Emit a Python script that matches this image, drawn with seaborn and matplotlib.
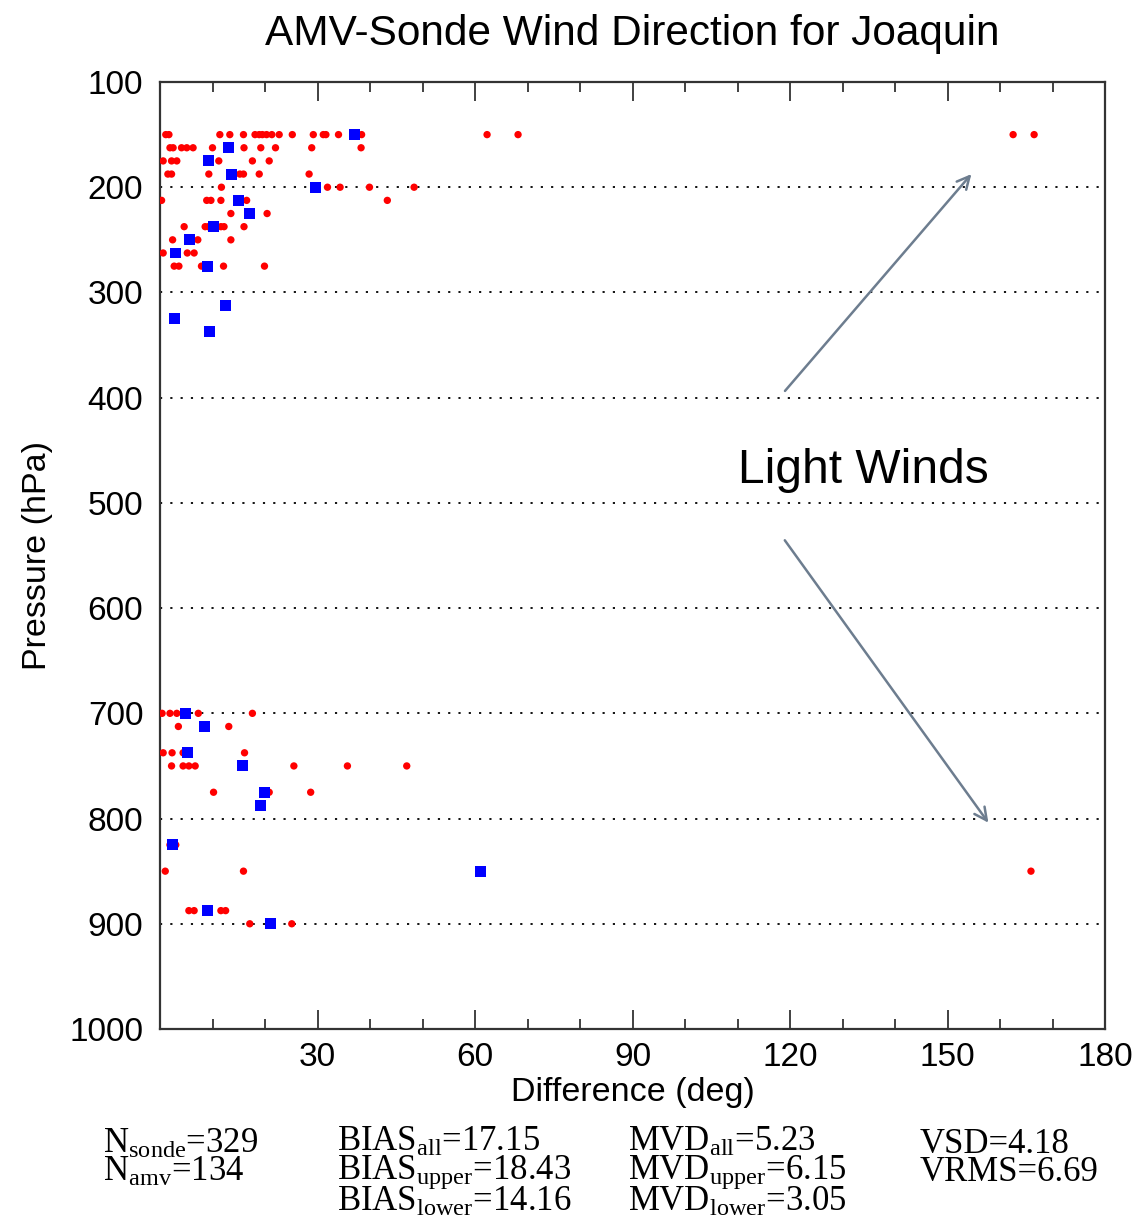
import matplotlib
matplotlib.use("Agg")
import matplotlib.pyplot as plt
import seaborn as sns
import numpy as np

# ---------------- data ----------------
sonde_levels = [150, 162.5, 175, 187.5, 200, 212.5, 225, 237.5, 250, 262.5, 275,
                700, 712.5, 737.5, 750, 775, 825, 850, 887.5, 900]
sonde_diffs = [
    [1.1, 1.7, 11.4, 13.3, 15.9, 18.1, 18.9, 19.5, 20.3, 21.3, 22.7, 25.2, 29.2, 31.1, 31.6, 34.0, 38.4, 62.3, 68.2, 162.5, 166.5],
    [1.9, 2.5, 4.1, 5.1, 6.3, 10.0, 16.0, 19.2, 22.0, 28.9, 38.3],
    [0.6, 2.2, 3.2, 11.2, 17.6, 20.8],
    [1.5, 2.2, 9.3, 15.2, 15.9, 18.9, 28.4],
    [11.7, 31.9, 34.3, 39.9, 48.4],
    [0.3, 8.9, 9.7, 11.6, 16.5, 43.3],
    [13.5, 20.4],
    [4.6, 8.6, 9.2, 11.6, 12.2, 16.0],
    [2.4, 7.2, 13.5],
    [0.6, 5.2, 6.5],
    [2.7, 3.6, 7.9, 12.1, 19.9],
    [0.4, 1.9, 3.2, 7.3, 17.6],
    [3.5, 13.1],
    [0.6, 2.3, 4.4, 16.1],
    [2.2, 4.4, 5.5, 6.7, 25.5, 35.7, 47.0],
    [10.2, 20.8, 28.7],
    [1.9, 3.0],
    [1.0, 15.9, 165.9],
    [5.5, 6.5, 11.6, 12.5],
    [17.1, 25.1],
]
amv_pressure = [150, 162.5, 175, 187.5, 200, 212.5, 225, 237.5, 250, 262.5, 275, 312.5, 325, 337.5,
                700, 712.5, 737.5, 750, 775, 787.5, 825, 850, 887.5, 900]
amv_diff = [37.1, 13.0, 9.3, 13.7, 29.7, 15.0, 17.0, 10.2, 5.7, 3.0, 9.1, 12.5, 2.7, 9.4,
            4.8, 8.4, 5.2, 15.7, 19.9, 19.2, 2.3, 61.0, 9.1, 21.1]

x_ticks = [0, 30, 60, 90, 120, 150, 180]
y_ticks = [100, 200, 300, 400, 500, 600, 700, 800, 900, 1000]

stats_col1 = [r"N$_{\mathrm{sonde}}$=329", r"N$_{\mathrm{amv}}$=134"]
stats_col2 = [r"BIAS$_{\mathrm{all}}$=17.15", r"BIAS$_{\mathrm{upper}}$=18.43", r"BIAS$_{\mathrm{lower}}$=14.16"]
stats_col3 = [r"MVD$_{\mathrm{all}}$=5.23", r"MVD$_{\mathrm{upper}}$=6.15", r"MVD$_{\mathrm{lower}}$=3.05"]
stats_col4 = [r"VSD=4.18", r"VRMS=6.69"]

sonde_pressure = [p for p, ds in zip(sonde_levels, sonde_diffs) for _ in ds]
sonde_diff = [d for ds in sonde_diffs for d in ds]

# ---------------- plot ----------------
sns.set_style("white")
plt.rcParams['font.family'] = ['Liberation Sans', 'DejaVu Sans']
plt.rcParams['text.color'] = 'black'
plt.rcParams['axes.labelcolor'] = 'black'
plt.rcParams['xtick.color'] = '#333333'
plt.rcParams['ytick.color'] = '#333333'
plt.rcParams['xtick.labelcolor'] = 'black'
plt.rcParams['ytick.labelcolor'] = 'black'
plt.rcParams['mathtext.fontset'] = 'custom'
plt.rcParams['mathtext.rm'] = 'Liberation Serif'
plt.rcParams['mathtext.it'] = 'Liberation Serif'

fig = plt.figure(figsize=(11.38, 12.22), dpi=100)
ax = fig.add_axes([160/1138, (1222-1029)/1222, 945/1138, 947/1222])

for yv in range(200, 1000, 100):
    ax.axhline(yv, color='black', linestyle=(0, (1.2, 4.5)), linewidth=1.3, zorder=1)

sns.scatterplot(x=sonde_diff, y=sonde_pressure, ax=ax, color='#ff0000', marker='o',
                s=28, edgecolor='none', linewidth=0, zorder=3)
sns.scatterplot(x=amv_diff, y=amv_pressure, ax=ax, color='#0000ff', marker='s',
                s=62, edgecolor='none', linewidth=0, zorder=4)

ax.set_xlim(0, 180)
ax.set_ylim(1000, 100)
ax.set_xticks(x_ticks)
ax.set_xticklabels([''] + [str(v) for v in x_ticks[1:]])
ax.set_xticks(np.arange(0, 181, 10), minor=True)
ax.set_yticks(y_ticks)
ax.set_yticklabels([str(v) for v in y_ticks])
ax.tick_params(axis='x', which='major', direction='in', top=True, bottom=True,
               length=14, width=1.3, labelsize=24, pad=9)
ax.tick_params(axis='x', which='minor', direction='in', top=True, bottom=True,
               length=7, width=1.3)
ax.tick_params(axis='y', which='both', left=True, right=False, length=0,
               labelsize=24, pad=12)
for s in ax.spines.values():
    s.set_color('#333333')
    s.set_linewidth(1.6)

ax.set_xlabel("Difference (deg)", fontsize=24.5, labelpad=3)
ax.set_ylabel("Pressure (hPa)", fontsize=24.5, labelpad=12)
ax.set_title("AMV-Sonde Wind Direction for Joaquin", fontsize=30.5, pad=27)

ax.text(133.9, 469, "Light Winds", fontsize=34.5, ha='center', va='center')
arrow_kw = dict(arrowstyle='->,head_length=0.9,head_width=0.45', color='#6d7d8f', lw=1.8)
ax.annotate("", xy=(154.9, 185.5), xytext=(118.7, 395.6), arrowprops=arrow_kw)
ax.annotate("", xy=(158.1, 806.1), xytext=(118.7, 533.4), arrowprops=arrow_kw)

# statistics block: one multi-line text per column; va='baseline' anchors the last line
col_x = [103, 337, 628, 920]
first_baseline = 1151
line_step = 30
for cx, col in zip(col_x, [stats_col1, stats_col2, stats_col3, stats_col4]):
    last_baseline = first_baseline + line_step * (len(col) - 1)
    fig.text(cx/1138, 1 - last_baseline/1222, "\n".join(col), fontsize=25,
             family='Liberation Serif', ha='left', va='baseline',
             linespacing=0.8, multialignment='left')

fig.savefig("out.png", dpi=100)
